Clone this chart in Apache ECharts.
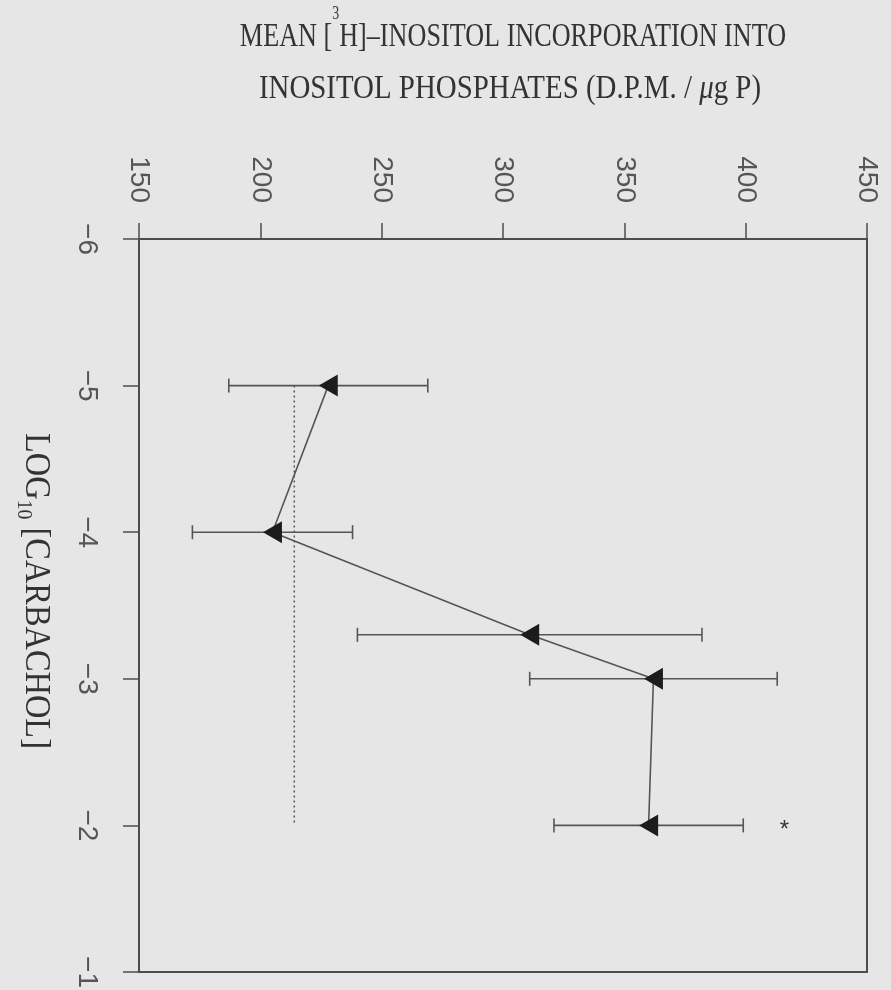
<!DOCTYPE html>
<html><head><meta charset="utf-8">
<script src="https://cdn.jsdelivr.net/npm/echarts@6/dist/echarts.min.js"></script>
<style>html,body{margin:0;padding:0;background:#e6e6e6}#c{width:891px;height:990px}</style>
</head><body><div id="c"></div>
<script>
// log10 [carbachol] (M)
const logConc = [-5, -4, -3.3, -3, -2];
// mean [3H]-inositol incorporation (d.p.m. / ug P)
const meanDPM = [228, 205, 311, 362, 360];
// error (+/-)
const errDPM = [41, 33, 71, 51, 39];
// basal / control level (dotted line)
const controlDPM = 214;
const controlLogRange = [-5, -2];
// significance marker
const sigLog = [-2];
const sigDPM = [416];
// axis ticks
const xTicks = [150, 200, 250, 300, 350, 400, 450];
const yTicks = [-6, -5, -4, -3, -2, -1];

const ink = '#4d4d4d';
const labelFont = {fontFamily: 'Liberation Sans', fontSize: 28, fill: '#555'};
const chart = echarts.init(document.getElementById('c'), null, {renderer: 'canvas'});

const option = {
  backgroundColor: '#e6e6e6',
  animation: false,
  grid: {left: 139, right: 24, top: 239, bottom: 18, show: true,
         borderColor: ink, borderWidth: 2, backgroundColor: 'transparent'},
  xAxis: {
    type: 'value', position: 'top',
    min: xTicks[0], max: xTicks[xTicks.length - 1], interval: xTicks[1] - xTicks[0],
    axisLine: {show: true, lineStyle: {color: ink, width: 2}},
    axisTick: {show: true, inside: false, length: 16, lineStyle: {color: ink, width: 1.5}},
    axisLabel: {show: false},
    splitLine: {show: false}
  },
  yAxis: {
    type: 'value', inverse: true,
    min: yTicks[0], max: yTicks[yTicks.length - 1], interval: yTicks[1] - yTicks[0],
    axisLine: {show: true, lineStyle: {color: ink, width: 2}},
    axisTick: {show: true, inside: false, length: 16, lineStyle: {color: ink, width: 1.5}},
    axisLabel: {show: false},
    splitLine: {show: false}
  },
  graphic: [
    {type: 'text', x: 513, y: 37, scaleX: 0.77, z: 10,
     style: {text: '{a|MEAN [}{s|3}{a|H]\u2013INOSITOL INCORPORATION INTO}',
       align: 'center', verticalAlign: 'middle',
       rich: {a: {fontFamily: 'Liberation Serif', fontSize: 34, lineHeight: 64, fill: '#333'},
              s: {fontFamily: 'Liberation Serif', fontSize: 18, lineHeight: 22, verticalAlign: 'top', fill: '#333'}}}},
    {type: 'text', x: 510, y: 89, scaleX: 0.85, z: 10,
     style: {text: '{a|INOSITOL PHOSPHATES (D.P.M. / }{i|\u03bc}{a|g P)}',
       align: 'center', verticalAlign: 'middle',
       rich: {a: {fontFamily: 'Liberation Serif', fontSize: 34, lineHeight: 44, fill: '#333'},
              i: {fontFamily: 'Liberation Serif', fontSize: 34, lineHeight: 44, fontStyle: 'italic', fill: '#333'}}}},
    {type: 'text', x: 35, y: 591, rotation: -Math.PI / 2, scaleX: 0.9, z: 10,
     style: {text: '{a|LOG}{b|10}{a| [CARBACHOL]}',
       align: 'center', verticalAlign: 'middle',
       rich: {a: {fontFamily: 'Liberation Serif', fontSize: 36, lineHeight: 44, fill: '#333'},
              b: {fontFamily: 'Liberation Serif', fontSize: 22, lineHeight: 22, verticalAlign: 'bottom', fill: '#333'}}}}
  ],
  series: [
    {
      // top axis tick labels (rotated clockwise), placed through the axis scale
      type: 'custom', name: 'xTickLabels', silent: true, clip: false,
      data: xTicks.map(v => [v, yTicks[0]]),
      encode: {x: 0, y: 1}, z: 5,
      renderItem: (params, api) => {
        const p = api.coord([api.value(0), api.value(1)]);
        return {type: 'text', x: p[0], y: p[1] - 36, rotation: -Math.PI / 2,
          style: Object.assign({text: String(api.value(0)), align: 'right', verticalAlign: 'middle'}, labelFont)};
      }
    },
    {
      // left axis tick labels (rotated clockwise)
      type: 'custom', name: 'yTickLabels', silent: true, clip: false,
      data: yTicks.map(v => [xTicks[0], v]),
      encode: {x: 0, y: 1}, z: 5,
      renderItem: (params, api) => {
        const v = api.value(1);
        const p = api.coord([api.value(0), v]);
        return {type: 'text', x: p[0] - 38, y: p[1], rotation: -Math.PI / 2,
          style: Object.assign({text: (v < 0 ? '\u2212' : '') + Math.abs(v), align: 'center', verticalAlign: 'top'}, labelFont)};
      }
    },
    {
      type: 'line', name: 'control',
      data: controlLogRange.map(l => [controlDPM, l]),
      symbol: 'none', z: 1,
      lineStyle: {color: '#555', width: 1.5, type: [2, 3]}
    },
    {
      type: 'custom', name: 'error',
      data: logConc.map((l, i) => [meanDPM[i], l, errDPM[i]]),
      encode: {x: 0, y: 1},
      z: 2,
      renderItem: (params, api) => {
        const m = api.value(0), y = api.value(1), e = api.value(2);
        const lo = api.coord([m - e, y]);
        const hi = api.coord([m + e, y]);
        const cap = 7;
        const st = {stroke: '#555', lineWidth: 1.6};
        return {type: 'group', children: [
          {type: 'line', shape: {x1: lo[0], y1: lo[1], x2: hi[0], y2: hi[1]}, style: st},
          {type: 'line', shape: {x1: lo[0], y1: lo[1] - cap, x2: lo[0], y2: lo[1] + cap}, style: st},
          {type: 'line', shape: {x1: hi[0], y1: hi[1] - cap, x2: hi[0], y2: hi[1] + cap}, style: st}
        ]};
      }
    },
    {
      type: 'line', name: 'mean',
      data: logConc.map((l, i) => [meanDPM[i], l]),
      symbol: 'triangle', symbolRotate: 90, symbolSize: [22, 19],
      itemStyle: {color: '#1c1c1c'},
      lineStyle: {color: '#555', width: 1.6},
      z: 3
    },
    {
      type: 'custom', name: 'sig',
      data: sigLog.map((l, i) => [sigDPM[i], l]),
      encode: {x: 0, y: 1},
      z: 4,
      renderItem: (params, api) => {
        const p = api.coord([api.value(0), api.value(1)]);
        return {type: 'text', x: p[0], y: p[1] + 5,
          style: {text: '*', fontFamily: 'Liberation Sans', fontSize: 24, fill: '#333',
                  align: 'center', verticalAlign: 'middle'}};
      }
    }
  ]
};
chart.setOption(option);
</script>
</body></html>
